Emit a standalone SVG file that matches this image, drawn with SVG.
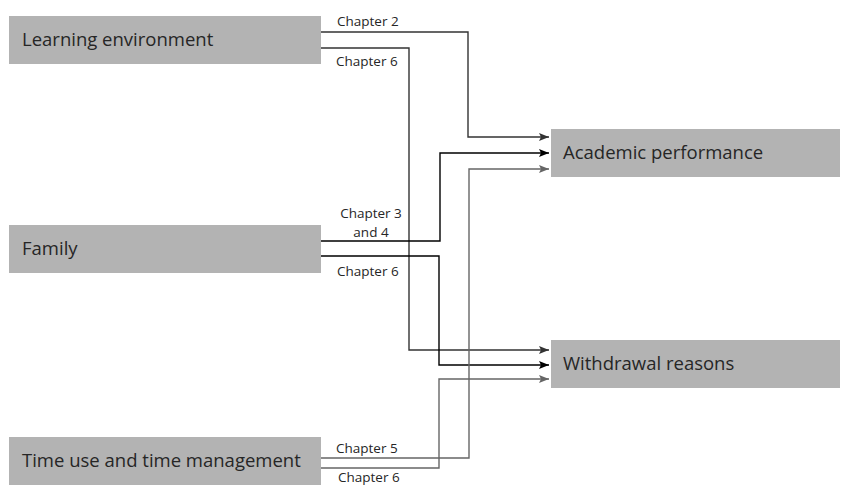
<svg xmlns="http://www.w3.org/2000/svg" width="852" height="485" viewBox="0 0 852 485">
  <style>
    .box { fill: #b3b3b3; }
    .name { font-family: "Open Sans", "Liberation Sans", sans-serif; font-size: 18.5px; fill: #262626; }
    .lab { font-family: "Open Sans", "Liberation Sans", sans-serif; font-size: 13.5px; fill: #262626; }
    .wire { fill: none; stroke-width: 1.4; }
  </style>
  <defs>
    <marker id="ah-dark" viewBox="0 0 10 8" refX="10" refY="4" markerWidth="10" markerHeight="8" markerUnits="userSpaceOnUse" orient="auto">
      <path d="M0,0 L10,4 L0,8 L2,4 Z" fill="#333333"/>
    </marker>
    <marker id="ah-black" viewBox="0 0 10 8" refX="10" refY="4" markerWidth="10" markerHeight="8" markerUnits="userSpaceOnUse" orient="auto">
      <path d="M0,0 L10,4 L0,8 L2,4 Z" fill="#000000"/>
    </marker>
    <marker id="ah-gray" viewBox="0 0 10 8" refX="10" refY="4" markerWidth="10" markerHeight="8" markerUnits="userSpaceOnUse" orient="auto">
      <path d="M0,0 L10,4 L0,8 L2,4 Z" fill="#666666"/>
    </marker>
  </defs>

  <rect width="852" height="485" fill="#ffffff"/>

  <g id="connectors">
    <!-- Learning environment -->
    <path class="wire" d="M321,32 H468 V137 H549" stroke="#333333" marker-end="url(#ah-dark)"/>
    <path class="wire" d="M321,48 H409 V350 H549" stroke="#333333" marker-end="url(#ah-dark)"/>
    <!-- Family -->
    <path class="wire" d="M321,241 H440 V153 H549" stroke="#000000" marker-end="url(#ah-black)"/>
    <path class="wire" d="M321,256 H439 V365 H549" stroke="#000000" marker-end="url(#ah-black)"/>
    <!-- Time use and time management -->
    <path class="wire" d="M321,458 H469 V169 H549" stroke="#666666" marker-end="url(#ah-gray)"/>
    <path class="wire" d="M321,468 H439 V379 H549" stroke="#666666" marker-end="url(#ah-gray)"/>

    <text class="lab" x="337" y="26">Chapter 2</text>
    <text class="lab" x="336" y="66">Chapter 6</text>
    <text class="lab" x="371" y="218" text-anchor="middle">Chapter 3</text>
    <text class="lab" x="371" y="237" text-anchor="middle">and 4</text>
    <text class="lab" x="337" y="276">Chapter 6</text>
    <text class="lab" x="336" y="453">Chapter 5</text>
    <text class="lab" x="338" y="482">Chapter 6</text>
  </g>

  <g id="learning-environment">
    <rect class="box" x="9" y="16" width="312" height="48"/>
    <text class="name" x="22" y="46">Learning environment</text>
  </g>
  <g id="family">
    <rect class="box" x="9" y="225" width="312" height="48"/>
    <text class="name" x="22" y="255">Family</text>
  </g>
  <g id="time-use">
    <rect class="box" x="9" y="437" width="312" height="48"/>
    <text class="name" x="22" y="467">Time use and time management</text>
  </g>
  <g id="academic-performance">
    <rect class="box" x="551" y="129" width="289" height="48"/>
    <text class="name" x="563" y="159">Academic performance</text>
  </g>
  <g id="withdrawal-reasons">
    <rect class="box" x="551" y="340" width="289" height="48"/>
    <text class="name" x="563" y="370">Withdrawal reasons</text>
  </g>
</svg>
